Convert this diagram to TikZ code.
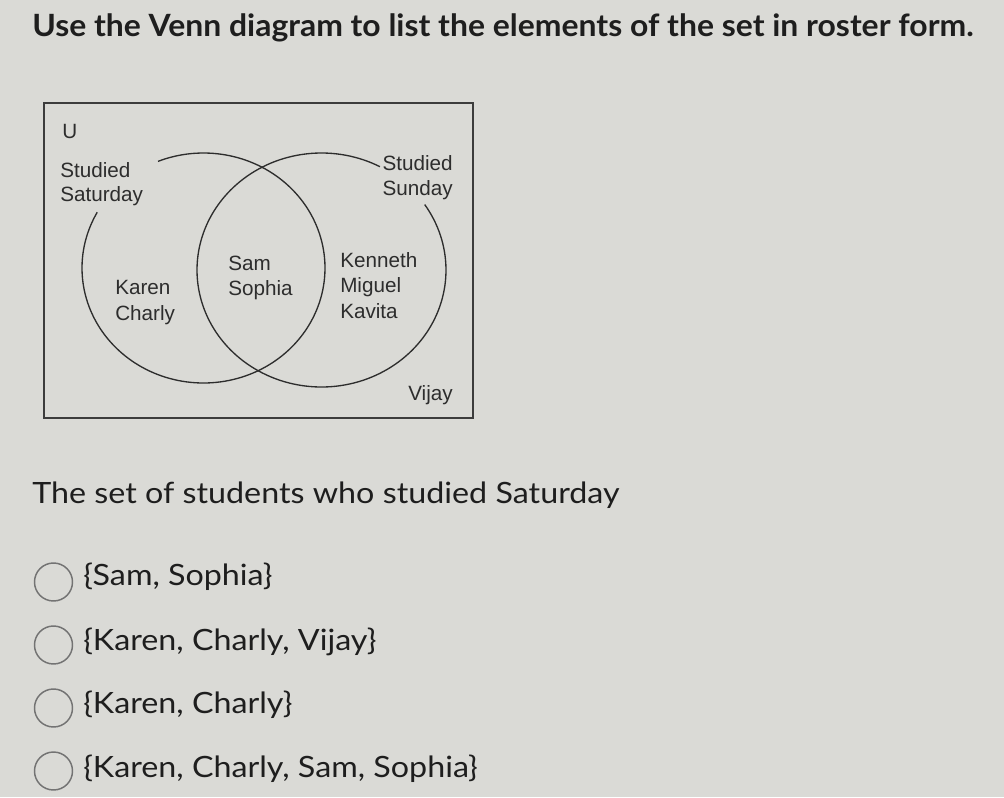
\documentclass[tikz,border=0pt]{standalone}
\usepackage{fontspec}
\setmainfont{Lato}
\newfontfamily\latow[FakeStretch=1.1]{Lato}
\newfontfamily\latot[FakeStretch=1.04]{Lato}
\newfontfamily\venn{Liberation Sans}
\definecolor{bgc}{RGB}{218,218,214}
\definecolor{ink}{RGB}{30,30,30}
\definecolor{vink}{RGB}{45,45,45}
\definecolor{boxc}{RGB}{60,60,60}
\definecolor{radc}{RGB}{115,115,115}
\tikzset{
  vlabel/.style={font=\venn\fontsize{15.5pt}{18pt}\selectfont, text=vink, inner sep=0pt},
  vset/.style={draw=vink, line width=1pt},
  opt/.style={font=\latow\fontsize{22pt}{26pt}\selectfont, text=ink, inner sep=0pt, anchor=base west},
  radio/.style={circle, draw=radc, line width=1.1pt, minimum size=28.5pt, inner sep=0pt},
}
\begin{document}
\begin{tikzpicture}[x=0.75pt,y=-0.75pt]
\fill[bgc] (0,0) rectangle (1004,797);
\useasboundingbox (0,0) rectangle (1004,797);
% title
\node[font=\latot\bfseries\fontsize{23pt}{27pt}\selectfont, text=ink, inner sep=0pt, anchor=base west] (title) at (32,36) {Use the Venn diagram to list the elements of the set in roster form.};
% universe box
\node[draw=boxc, line width=1.5pt, minimum width=321.75pt, minimum height=236.25pt, inner sep=0pt, anchor=north west] (U) at (43,102) {};
% sets
\draw[vset] plot[domain=112:-209, samples=160, smooth] ({203.5+121.5*cos(\x)},{268-115*sin(\x)});
\draw[vset] plot[domain=62:394, samples=160, smooth] ({321.5+124.5*cos(\x)},{270-117*sin(\x)});
% labels
\node[vlabel, anchor=base west] (ulab) at (62,138) {U};
\node[vlabel, anchor=base west] (sat1) at (60,177) {Studied};
\node[vlabel, anchor=base west] (sat2) at (60,201) {Saturday};
\node[vlabel, anchor=base east] (sun1) at (453,170) {Studied};
\node[vlabel, anchor=base east] (sun2) at (453,195) {Sunday};
\node[vlabel, anchor=base west] (sam) at (228,270) {Sam};
\node[vlabel, anchor=base west] (sophia) at (228,295) {Sophia};
\node[vlabel, anchor=base west] (karen) at (115,294) {Karen};
\node[vlabel, anchor=base west] (charly) at (115,320) {Charly};
\node[vlabel, anchor=base west] (kenneth) at (340,267) {Kenneth};
\node[vlabel, anchor=base west] (miguel) at (340,292) {Miguel};
\node[vlabel, anchor=base west] (kavita) at (340,318) {Kavita};
\node[vlabel, anchor=base west] (vijay) at (408,400) {Vijay};
% question
\node[font=\latow\fontsize{22pt}{26pt}\selectfont, text=ink, inner sep=0pt, anchor=base west] (q) at (32,503) {The set of students who studied Saturday};
% options
\node[radio] (r1) at (53.5,582) {};
\node[radio] (r2) at (53.5,645) {};
\node[radio] (r3) at (53.5,708) {};
\node[radio] (r4) at (53.5,771) {};
\node[opt] (o1) at (83,585) {\{Sam, Sophia\}};
\node[opt] (o2) at (83,650) {\{Karen, Charly, Vijay\}};
\node[opt] (o3) at (83,713) {\{Karen, Charly\}};
\node[opt] (o4) at (83,777) {\{Karen, Charly, Sam, Sophia\}};
\end{tikzpicture}
\end{document}
